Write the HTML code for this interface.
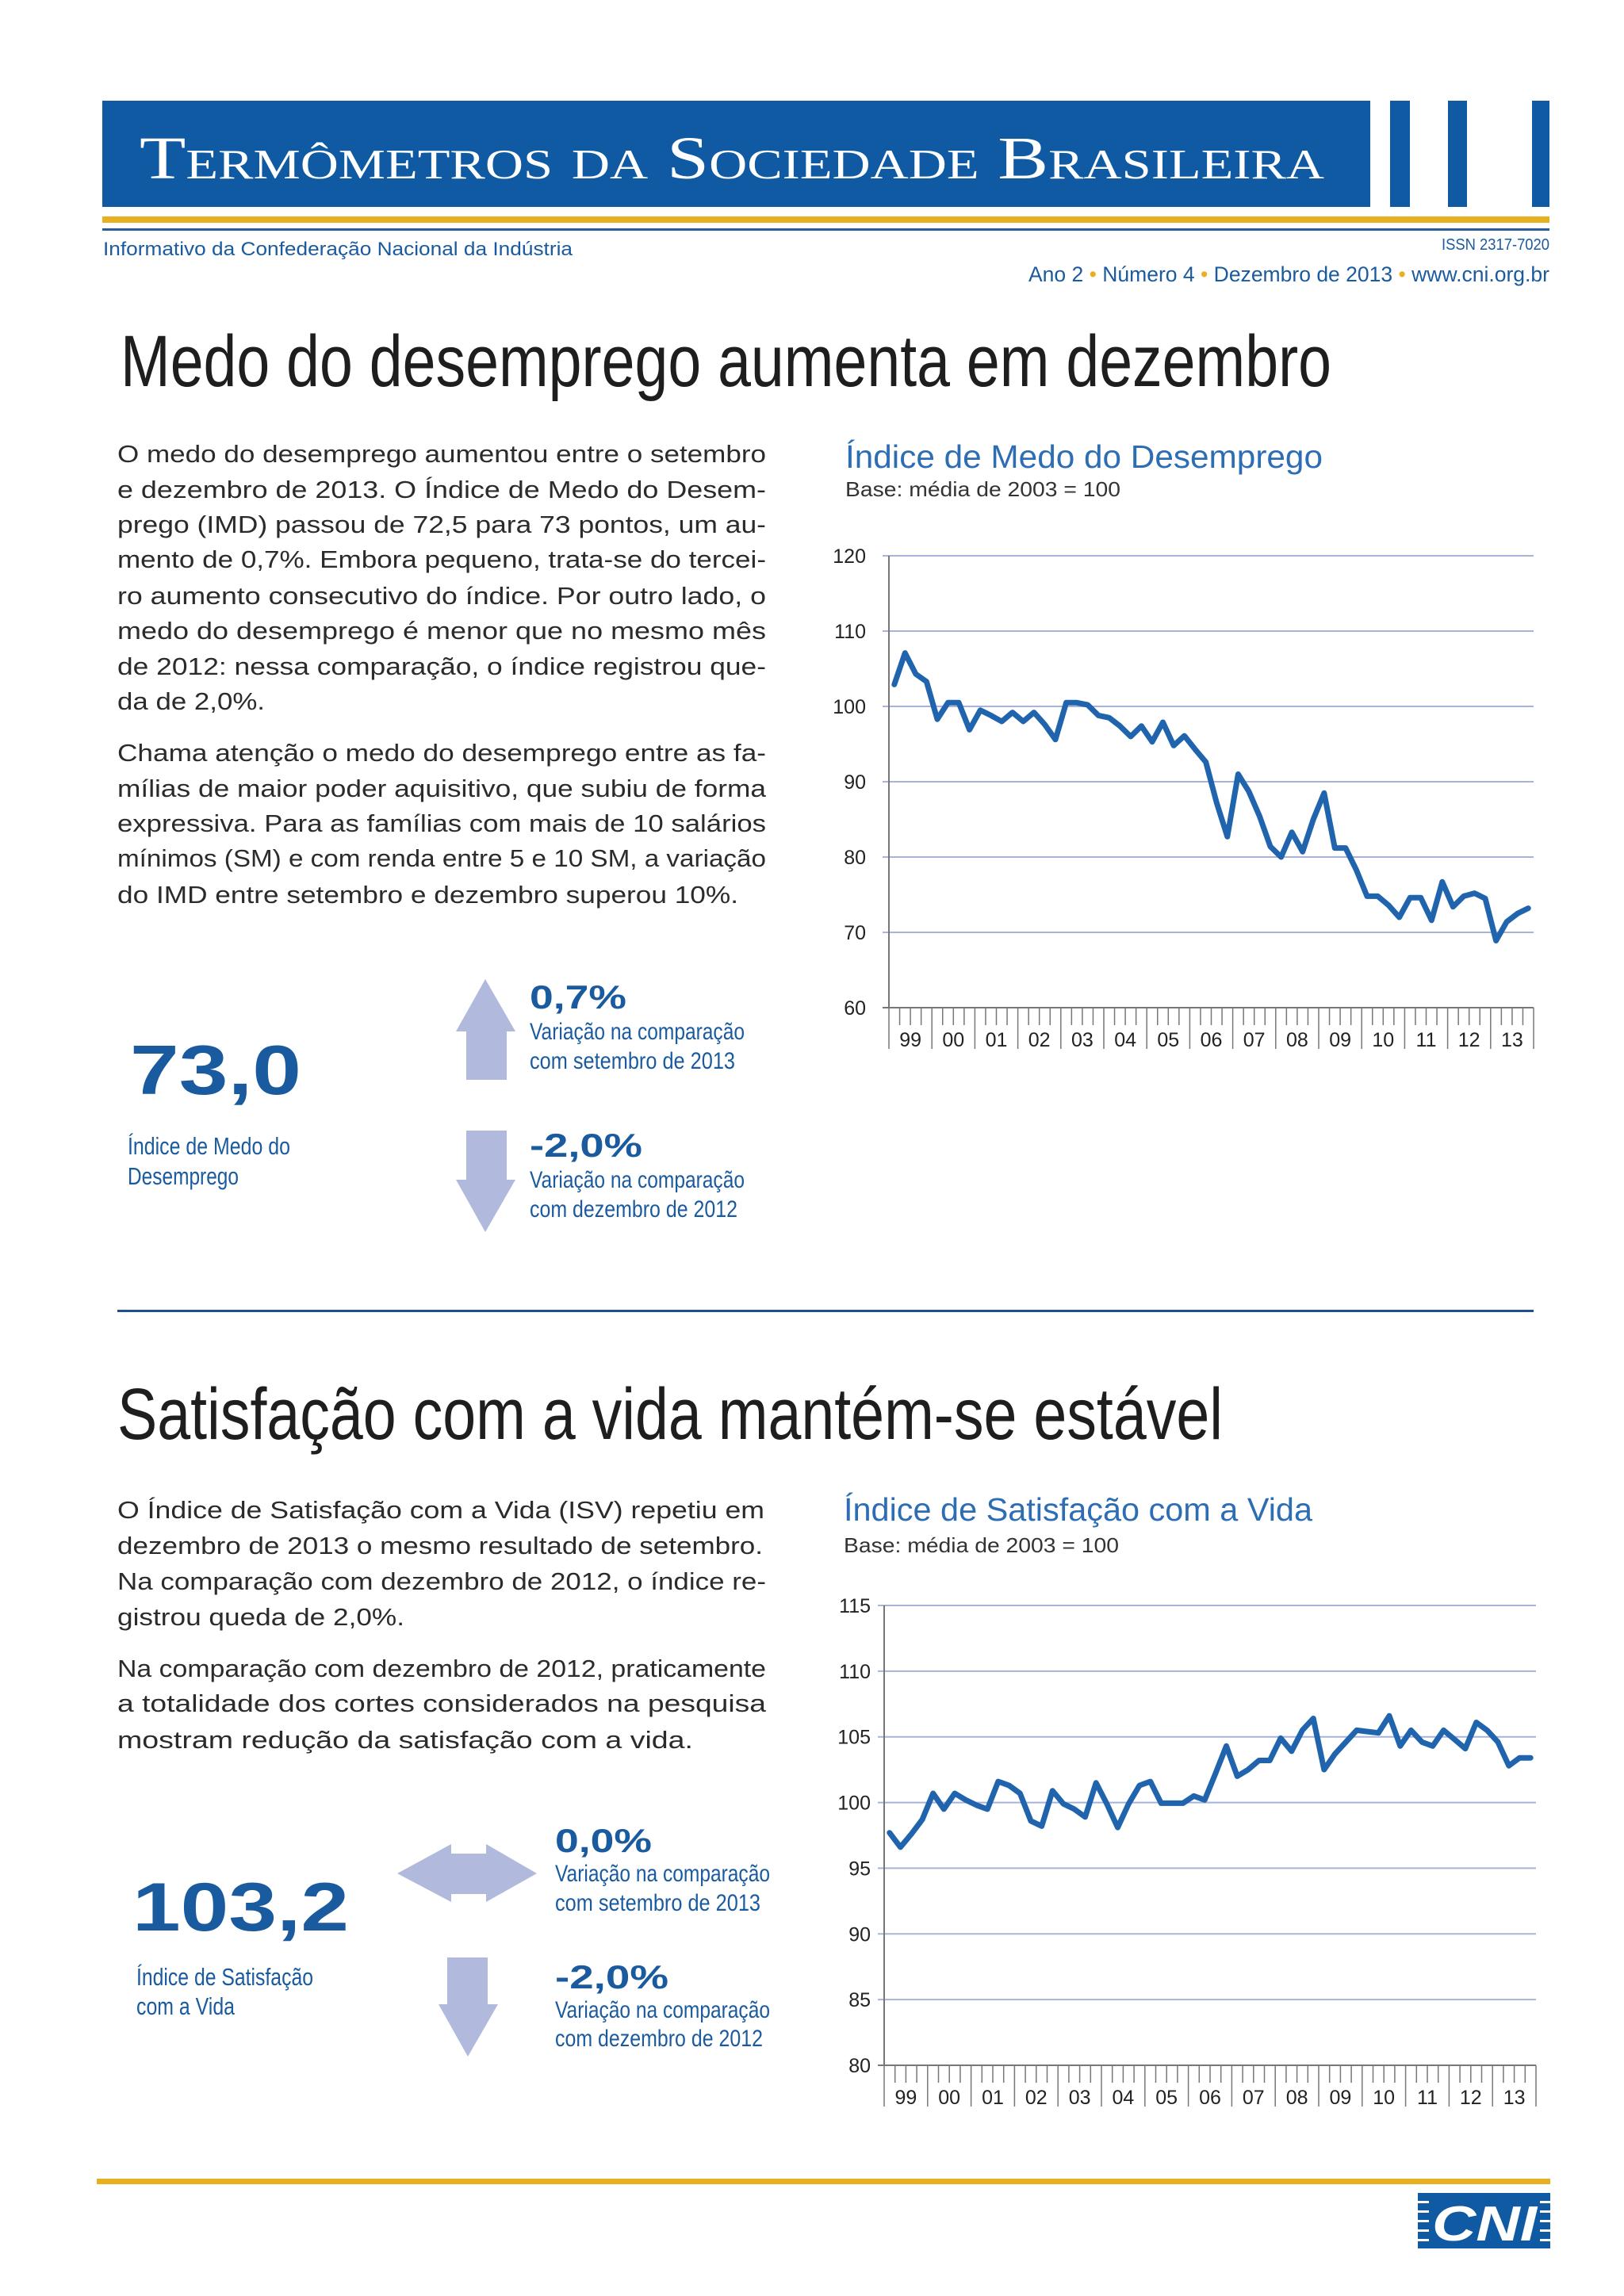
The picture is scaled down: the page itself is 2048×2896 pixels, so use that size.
<!DOCTYPE html>
<html lang="pt">
<head>
<meta charset="utf-8">
<title>Termômetros da Sociedade Brasileira</title>
<style>
html,body{margin:0;padding:0;background:#fff;}
body{width:2048px;height:2896px;overflow:hidden;}
svg{display:block;}
.body{font-family:"Liberation Sans",sans-serif;font-size:31px;fill:#2b2b2b;}
.head{font-family:"Liberation Sans",sans-serif;font-size:92px;fill:#1e1e1e;}
.blue{fill:#1a5a9e;font-family:"Liberation Sans",sans-serif;}
.ctitle{font-family:"Liberation Sans",sans-serif;font-size:41px;fill:#2c6db4;}
.cbase{font-family:"Liberation Sans",sans-serif;font-size:26px;fill:#333;}
.tick{font-family:"Liberation Sans",sans-serif;font-size:25px;fill:#222;}
</style>
</head>
<body>
<svg id="page" width="2048" height="2896" viewBox="0 0 2048 2896" xmlns="http://www.w3.org/2000/svg">
  <!-- Header -->
  <rect x="129" y="127" width="1599" height="134" fill="#0f5aa3"/>
  <rect x="1753" y="127" width="25" height="134" fill="#0f5aa3"/>
  <rect x="1826" y="127" width="24" height="134" fill="#0f5aa3"/>
  <rect x="1932" y="127" width="22" height="134" fill="#0f5aa3"/>
  <text x="176" y="225" font-family="Liberation Serif, serif" font-size="76" fill="#fff" style="font-variant:small-caps" textLength="1494" lengthAdjust="spacingAndGlyphs">Termômetros da Sociedade Brasileira</text>
  <rect x="129" y="273" width="1825" height="8" fill="#e8b020"/>
  <rect x="129" y="288" width="1825" height="3" fill="#2a5c9a"/>
  <text x="130" y="322" class="blue" font-size="24" fill="#2a5c9a" textLength="592" lengthAdjust="spacingAndGlyphs">Informativo da Confederação Nacional da Indústria</text>
  <text x="1954" y="315" class="blue" font-size="20" text-anchor="end" textLength="136" lengthAdjust="spacingAndGlyphs">ISSN 2317-7020</text>
  <text x="1297" y="355" class="blue" font-size="27" textLength="657" lengthAdjust="spacingAndGlyphs">Ano 2 <tspan fill="#e8b020">•</tspan> Número 4 <tspan fill="#e8b020">•</tspan> Dezembro de 2013 <tspan fill="#e8b020">•</tspan> <tspan>www.cni.org.br</tspan></text>

  <!-- Section 1 -->
  <text x="152" y="487" class="head" textLength="1527" lengthAdjust="spacingAndGlyphs">Medo do desemprego aumenta em dezembro</text>
  <g class="body">
    <text x="148" y="583" textLength="818" lengthAdjust="spacingAndGlyphs">O medo do desemprego aumentou entre o setembro</text>
    <text x="148" y="628" textLength="818" lengthAdjust="spacingAndGlyphs">e dezembro de 2013. O Índice de Medo do Desem-</text>
    <text x="148" y="672" textLength="818" lengthAdjust="spacingAndGlyphs">prego (IMD) passou de 72,5 para 73 pontos, um au-</text>
    <text x="148" y="716" textLength="818" lengthAdjust="spacingAndGlyphs">mento de 0,7%. Embora pequeno, trata-se do tercei-</text>
    <text x="148" y="762" textLength="818" lengthAdjust="spacingAndGlyphs">ro aumento consecutivo do índice. Por outro lado, o</text>
    <text x="148" y="806" textLength="818" lengthAdjust="spacingAndGlyphs">medo do desemprego é menor que no mesmo mês</text>
    <text x="148" y="851" textLength="818" lengthAdjust="spacingAndGlyphs">de 2012: nessa comparação, o índice registrou que-</text>
    <text x="148" y="895" textLength="186" lengthAdjust="spacingAndGlyphs">da de 2,0%.</text>
    <text x="148" y="960" textLength="818" lengthAdjust="spacingAndGlyphs">Chama atenção o medo do desemprego entre as fa-</text>
    <text x="148" y="1005" textLength="818" lengthAdjust="spacingAndGlyphs">mílias de maior poder aquisitivo, que subiu de forma</text>
    <text x="148" y="1049" textLength="818" lengthAdjust="spacingAndGlyphs">expressiva. Para as famílias com mais de 10 salários</text>
    <text x="148" y="1093" textLength="818" lengthAdjust="spacingAndGlyphs">mínimos (SM) e com renda entre 5 e 10 SM, a variação</text>
    <text x="148" y="1139" textLength="783" lengthAdjust="spacingAndGlyphs">do IMD entre  setembro e dezembro superou 10%.</text>
  </g>

  <text x="1066" y="590" class="ctitle" textLength="602" lengthAdjust="spacingAndGlyphs">Índice de Medo do Desemprego</text>
  <text x="1066" y="626" class="cbase" textLength="347" lengthAdjust="spacingAndGlyphs">Base: média de 2003 = 100</text>
  <g id="chart1"></g>

  <!-- KPI 1 -->
  <text x="164" y="1380" class="blue" font-size="88" font-weight="bold" textLength="216" lengthAdjust="spacingAndGlyphs">73,0</text>
  <text x="161" y="1456" class="blue" font-size="31" textLength="205" lengthAdjust="spacingAndGlyphs">Índice de Medo do</text>
  <text x="161" y="1494" class="blue" font-size="31" textLength="140" lengthAdjust="spacingAndGlyphs">Desemprego</text>
  <polygon points="612,1235 650,1301 639,1301 639,1362 588,1362 588,1301 575,1301" fill="#b1b9dc"/>
  <text x="668" y="1272" class="blue" font-size="42" font-weight="bold" textLength="122" lengthAdjust="spacingAndGlyphs">0,7%</text>
  <text x="668" y="1311" class="blue" font-size="30" textLength="271" lengthAdjust="spacingAndGlyphs">Variação na comparação</text>
  <text x="668" y="1348" class="blue" font-size="30" textLength="259" lengthAdjust="spacingAndGlyphs">com setembro de 2013</text>
  <polygon points="588,1426 639,1426 639,1488 650,1488 612,1554 575,1488 588,1488" fill="#b1b9dc"/>
  <text x="668" y="1459" class="blue" font-size="42" font-weight="bold" textLength="142" lengthAdjust="spacingAndGlyphs">-2,0%</text>
  <text x="668" y="1498" class="blue" font-size="30" textLength="271" lengthAdjust="spacingAndGlyphs">Variação na comparação</text>
  <text x="668" y="1535" class="blue" font-size="30" textLength="262" lengthAdjust="spacingAndGlyphs">com dezembro de 2012</text>

  <rect x="148" y="1652" width="1786" height="3" fill="#1f4f8c"/>

  <!-- Section 2 -->
  <text x="148" y="1815" class="head" textLength="1394" lengthAdjust="spacingAndGlyphs">Satisfação com a vida mantém-se estável</text>
  <g class="body">
    <text x="148" y="1915" textLength="816" lengthAdjust="spacingAndGlyphs">O Índice de Satisfação com a Vida (ISV) repetiu em</text>
    <text x="148" y="1960" textLength="814" lengthAdjust="spacingAndGlyphs">dezembro de 2013 o mesmo resultado de setembro.</text>
    <text x="148" y="2005" textLength="818" lengthAdjust="spacingAndGlyphs">Na comparação com dezembro de 2012, o índice re-</text>
    <text x="148" y="2050" textLength="362" lengthAdjust="spacingAndGlyphs">gistrou queda de 2,0%.</text>
    <text x="148" y="2115" textLength="818" lengthAdjust="spacingAndGlyphs">Na comparação com dezembro de 2012, praticamente</text>
    <text x="148" y="2159" textLength="818" lengthAdjust="spacingAndGlyphs">a totalidade dos cortes considerados na pesquisa</text>
    <text x="148" y="2205" textLength="726" lengthAdjust="spacingAndGlyphs">mostram redução da satisfação com a vida.</text>
  </g>

  <text x="1064" y="1918" class="ctitle" textLength="591" lengthAdjust="spacingAndGlyphs">Índice de Satisfação com a Vida</text>
  <text x="1064" y="1958" class="cbase" textLength="347" lengthAdjust="spacingAndGlyphs">Base: média de 2003 = 100</text>
  <g id="chart2"></g>

  <!-- KPI 2 -->
  <text x="167" y="2435" class="blue" font-size="86" font-weight="bold" textLength="273" lengthAdjust="spacingAndGlyphs">103,2</text>
  <text x="172" y="2504" class="blue" font-size="31" textLength="223" lengthAdjust="spacingAndGlyphs">Índice de Satisfação</text>
  <text x="172" y="2541" class="blue" font-size="31" textLength="124" lengthAdjust="spacingAndGlyphs">com a Vida</text>
  <polygon points="501,2363 569,2326 569,2338 613,2338 613,2326 677,2363 613,2399 613,2389 569,2389 569,2399" fill="#b1b9dc"/>
  <text x="700" y="2336" class="blue" font-size="42" font-weight="bold" textLength="122" lengthAdjust="spacingAndGlyphs">0,0%</text>
  <text x="700" y="2373" class="blue" font-size="30" textLength="271" lengthAdjust="spacingAndGlyphs">Variação na comparação</text>
  <text x="700" y="2410" class="blue" font-size="30" textLength="259" lengthAdjust="spacingAndGlyphs">com setembro de 2013</text>
  <polygon points="564,2469 615,2469 615,2528 628,2528 590,2594 553,2528 564,2528" fill="#b1b9dc"/>
  <text x="700" y="2508" class="blue" font-size="42" font-weight="bold" textLength="143" lengthAdjust="spacingAndGlyphs">-2,0%</text>
  <text x="700" y="2545" class="blue" font-size="30" textLength="271" lengthAdjust="spacingAndGlyphs">Variação na comparação</text>
  <text x="700" y="2581" class="blue" font-size="30" textLength="262" lengthAdjust="spacingAndGlyphs">com dezembro de 2012</text>

  <!-- Footer -->
  <rect x="122" y="2748" width="1833" height="7" fill="#e8b020"/>
  <g>
    <rect x="1788" y="2766" width="167" height="70" fill="#0f5aa3"/>
    <rect x="1788" y="2776" width="14" height="3" fill="#fff"/>
    <rect x="1788" y="2788" width="14" height="3" fill="#fff"/>
    <rect x="1788" y="2800" width="14" height="3" fill="#fff"/>
    <rect x="1788" y="2812" width="14" height="3" fill="#fff"/>
    <rect x="1788" y="2824" width="14" height="3" fill="#fff"/>
    <rect x="1942" y="2776" width="13" height="3" fill="#fff"/>
    <rect x="1942" y="2788" width="13" height="3" fill="#fff"/>
    <rect x="1942" y="2800" width="13" height="3" fill="#fff"/>
    <rect x="1942" y="2812" width="13" height="3" fill="#fff"/>
    <rect x="1942" y="2824" width="13" height="3" fill="#fff"/>
    <text x="1806" y="2826" font-family="Liberation Sans, sans-serif" font-size="62" font-weight="bold" font-style="italic" fill="#fff" textLength="132" lengthAdjust="spacingAndGlyphs">CNI</text>
  </g>
</svg>

<script>
// Chart 1: Índice de Medo do Desemprego (quarterly 1999–2013)
const years = ["99","00","01","02","03","04","05","06","07","08","09","10","11","12","13"];
const imdValues = [102.9,107.1,104.3,103.3, 98.3,100.5,100.5,96.9, 99.5,98.8,98.0,99.2, 98.0,99.2,97.6,95.6,
  100.5,100.5,100.2,98.8, 98.5,97.4,96.0,97.4, 95.3,97.9,94.8,96.1, 94.3,92.6,87.2,82.7,
  91.0,88.7,85.4,81.4, 80.0,83.3,80.7,85.0, 88.5,81.2,81.2,78.3, 74.8,74.8,73.6,72.0,
  74.6,74.6,71.6,76.7, 73.4,74.8,75.2,74.5, 68.9,71.4,72.5,73.2];
const imdTicks = [60,70,80,90,100,110,120];
// Chart 2: Índice de Satisfação com a Vida
const isvValues = [97.7,96.6,97.6,98.7, 100.7,99.5,100.7,100.2, 99.8,99.5,101.6,101.3, 100.7,98.6,98.2,100.9,
  99.9,99.5,98.9,101.5, 99.9,98.1,99.9,101.3, 101.6,99.95,99.95,99.95, 100.5,100.2,102.2,104.3,
  102.0,102.5,103.2,103.2, 104.9,103.9,105.5,106.4, 102.5,103.7,104.6,105.5, 105.4,105.3,106.6,104.3,
  105.5,104.6,104.3,105.5, 104.8,104.1,106.1,105.5, 104.6,102.8,103.4,103.4];
const isvTicks = [80,85,90,95,100,105,110,115];

const NS = "http://www.w3.org/2000/svg";
function mk(tag, attrs, parent){
  const e = document.createElementNS(NS, tag);
  for (const k in attrs) e.setAttribute(k, attrs[k]);
  parent.appendChild(e);
  return e;
}

function drawChart(gid, values, ticks, box){
  const g = document.getElementById(gid);
  const vmin = ticks[0], vmax = ticks[ticks.length-1];
  const n = values.length;
  const yScale = v => box.yb - (v - vmin) / (vmax - vmin) * (box.yb - box.yt);
  const step = (box.x1 - box.x0) / n;
  const xScale = i => box.x0 + step * (i + 0.5);

  ticks.forEach(t => {
    const y = yScale(t);
    const gl = mk("line", {x1: box.x0 - 8, x2: box.x1, y1: y, y2: y, stroke: t === vmin ? "#777" : "#a8b3d8", "stroke-width": 2}, g);
    
    
    const lb = mk("text", {x: box.lx, y: y + 9, "text-anchor": "end", class: "tick"}, g);
    lb.textContent = t;
    
    
  });
  const ax = mk("line", {x1: box.x0, x2: box.x0, y1: box.yt, y2: box.yb, stroke: "#777", "stroke-width": 2}, g);
  
  

  for (let q = 0; q <= n; q++){
    const x = box.x0 + step * q;
    const major = q % 4 === 0;
    const tk = mk("line", {x1: x, x2: x, y1: box.yb, y2: box.yb + (major ? 52 : 22), stroke: "#777", "stroke-width": 1.5}, g);
    
    
  }
  years.forEach((yr, k) => {
    const cx = box.x0 + step * (k * 4 + 2);
    const t = mk("text", {x: cx, y: box.yb + 49, "text-anchor": "middle", class: "tick"}, g);
    t.textContent = yr;
    
    
  });

  const pts = values.map((v, i) => xScale(i).toFixed(1) + "," + yScale(v).toFixed(1)).join(" ");
  const line = mk("polyline", {points: pts, fill: "none", stroke: "#1f64ad", "stroke-width": 7, "stroke-linejoin": "round", "stroke-linecap": "round"}, g);
  
  
}

drawChart("chart1", imdValues, imdTicks, {x0: 1121, x1: 1934, yt: 701, yb: 1271, lx: 1092});
drawChart("chart2", isvValues, isvTicks, {x0: 1115, x1: 1937, yt: 2025, yb: 2605, lx: 1098});
</script>
</body>
</html>
